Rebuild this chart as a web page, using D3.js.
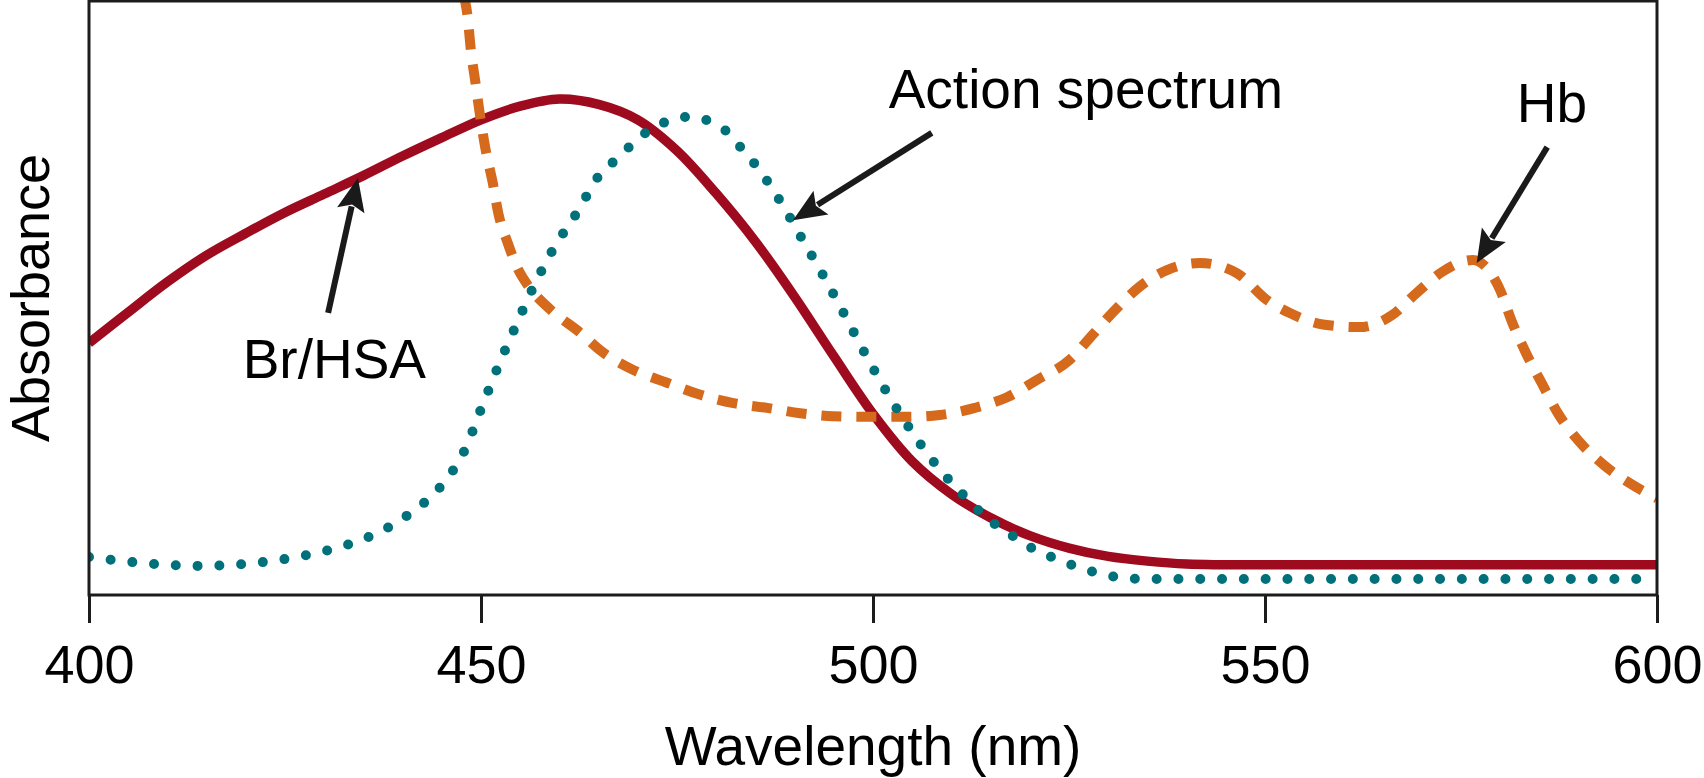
<!DOCTYPE html>
<html>
<head>
<meta charset="utf-8">
<script src="https://cdn.jsdelivr.net/npm/d3@7"></script>
<style>
html, body { margin: 0; padding: 0; background: #ffffff; }
svg { display: block; }
</style>
</head>
<body>
<svg id="chart" width="1704" height="778"></svg>
<script>
// ---- Data (wavelength in nm, absorbance in arbitrary relative units 0-100) ----
const xTickValues = [400, 450, 500, 550, 600];
const xTitle = "Wavelength (nm)";
const yTitle = "Absorbance";

const brWave = [400, 405, 410, 415, 420, 425, 430, 435, 440, 445, 450, 455, 460, 465, 470, 475, 480, 485, 490, 495, 500, 505, 510, 515, 520, 525, 530, 535, 540, 545, 570, 600];
const brAbs  = [42.4, 47.6, 52.7, 57.2, 60.9, 64.4, 67.5, 70.6, 73.9, 77.0, 80.0, 82.3, 83.5, 82.6, 80.0, 74.8, 67.6, 59.5, 50.2, 40.2, 30.5, 22.5, 17.0, 13.0, 10.0, 7.9, 6.5, 5.7, 5.2, 5.1, 5.1, 5.1];

const actionWave = [400, 403, 408.5, 414, 419.6, 425.2, 430.7, 435.9, 440.8, 445, 448, 450, 452.1, 454.3, 456.7, 459.2, 462.3, 465, 467.3, 469.3, 471.3, 473.9, 476.6, 479.4, 481.7, 483.4, 485.2, 488.3, 491.1, 493.9, 496.6, 499.2, 501.9, 505, 508.3, 512, 514, 516.2, 518.5, 520.9, 523.4, 526.1, 528.7, 531.2, 534.3, 600];
const actionAbs  = [6.4, 5.9, 5.2, 4.9, 5.2, 6.1, 7.6, 9.9, 13.6, 18.5, 24.6, 31.3, 38.2, 44.9, 51.9, 58.2, 64.5, 70.5, 73.4, 75.9, 78.1, 79.8, 80.5, 79.6, 77.6, 74.9, 72.1, 66.0, 59.6, 53.2, 46.6, 40.1, 33.8, 27.4, 21.5, 16.2, 13.6, 11.3, 9.4, 7.4, 6.1, 4.7, 3.7, 3.0, 2.7, 2.7];

const hbWave = [447.8, 448.3, 448.7, 449.3, 449.9, 450.6, 451.5, 452.2, 453.4, 454.6, 456.1, 458.9, 462.7, 465.2, 469.4, 473.8, 478, 482.2, 486.5, 490.7, 494.9, 499.9, 504.3, 508.5, 513, 517.1, 520.9, 525.1, 528, 530.6, 534, 537.5, 541.7, 546.4, 550.2, 553.1, 557.6, 562, 566.2, 569.3, 572.6, 576.5, 580, 581.5, 583.3, 585.4, 587.5, 590.1, 593.2, 597.3, 600];
const hbAbs  = [101, 97.3, 91.8, 86.2, 80.5, 74.9, 69.4, 64.3, 59.3, 55.2, 51.9, 48.0, 44.1, 41.2, 37.9, 35.7, 33.7, 32.3, 31.5, 30.6, 30.1, 30.0, 30.0, 30.3, 31.5, 33.3, 36.2, 39.6, 43.8, 47.6, 51.9, 54.7, 55.9, 54.2, 49.7, 47.5, 45.5, 45.1, 47.1, 50.8, 54.4, 56.4, 51.3, 46.0, 40.7, 35.4, 30.3, 25.8, 21.9, 18.2, 16.3];

// Annotation labels (text) and their anchor points in data units
const labelTexts = ["Br/HSA", "Action spectrum", "Hb"];
const labelWave  = [419.6, 502.0, 582.1];
const labelAbs   = [36.5, 82.0, 79.6];
const arrowTailWave = [430.5, 507.5, 586.0];
const arrowTailAbs  = [47.5, 77.8, 75.4];
const arrowTipWave  = [434.3, 489.8, 577.0];
const arrowTipAbs   = [70.2, 63.1, 55.9];

// ---- Layout ----
const FONT = "'Liberation Sans', Arial, Helvetica, sans-serif";
const plot = { left: 89, right: 1657, top: 1, bottom: 595 };

const svg = d3.select("#chart");
const x = d3.scaleLinear().domain([400, 600]).range([plot.left, plot.right]);
const y = d3.scaleLinear().domain([0, 100]).range([plot.bottom, plot.top]);

svg.append("defs").append("clipPath").attr("id", "plotclip")
  .append("rect")
  .attr("x", plot.left).attr("y", plot.top + 1)
  .attr("width", plot.right - plot.left).attr("height", plot.bottom - plot.top - 1);

const zip = (a, b) => a.map((v, i) => [v, b[i]]);
const line = d3.line().x(d => x(d[0])).y(d => y(d[1])).curve(d3.curveMonotoneX);
const smoothLine = d3.line().x(d => x(d[0])).y(d => y(d[1])).curve(d3.curveCatmullRom.alpha(0.5));

const curves = svg.append("g").attr("clip-path", "url(#plotclip)");

// Br/HSA solid
curves.append("path")
  .datum(zip(brWave, brAbs))
  .attr("d", smoothLine)
  .attr("fill", "none")
  .attr("stroke", "#9e0a1e")
  .attr("stroke-width", 9.5)
  .attr("stroke-linejoin", "round");

// Hb dashed
curves.append("path")
  .datum(zip(hbWave, hbAbs))
  .attr("d", line)
  .attr("fill", "none")
  .attr("stroke", "#d5691c")
  .attr("stroke-width", 10)
  .attr("stroke-dasharray", "20 15");

// Action spectrum dotted
curves.append("path")
  .datum(zip(actionWave, actionAbs))
  .attr("d", line)
  .attr("fill", "none")
  .attr("stroke", "#00707a")
  .attr("stroke-width", 10)
  .attr("stroke-linecap", "round")
  .attr("stroke-dasharray", "0 21.8");

// Frame
svg.append("rect")
  .attr("x", plot.left).attr("y", plot.top)
  .attr("width", plot.right - plot.left).attr("height", plot.bottom - plot.top)
  .attr("fill", "none").attr("stroke", "#1c1c1c").attr("stroke-width", 3);

// X axis
const xAxis = d3.axisBottom(x).tickValues(xTickValues).tickSize(28).tickSizeOuter(0).tickPadding(22)
  .tickFormat(d3.format("d"));
const gx = svg.append("g").attr("transform", `translate(0,${plot.bottom})`).call(xAxis);
gx.select(".domain").remove();
gx.selectAll(".tick line").attr("stroke", "#1c1c1c").attr("stroke-width", 3);
gx.selectAll(".tick text").attr("fill", "#000").style("font-family", FONT).style("font-size", "54px");

// Axis titles
svg.append("text")
  .attr("x", (plot.left + plot.right) / 2).attr("y", 765)
  .attr("text-anchor", "middle")
  .style("font-family", FONT).style("font-size", "55px").attr("fill", "#000")
  .text(xTitle);

svg.append("text")
  .attr("transform", `translate(49,${(plot.top + plot.bottom) / 2}) rotate(-90)`)
  .attr("text-anchor", "middle")
  .style("font-family", FONT).style("font-size", "54px").attr("fill", "#000")
  .text(yTitle);

// Annotations
const ann = svg.append("g");
labelTexts.forEach((t, i) => {
  ann.append("text")
    .attr("x", x(labelWave[i])).attr("y", y(labelAbs[i]))
    .style("font-family", FONT).style("font-size", "55px").attr("fill", "#000")
    .text(t);

  const x0 = x(arrowTailWave[i]), y0 = y(arrowTailAbs[i]);
  const x1 = x(arrowTipWave[i]), y1 = y(arrowTipAbs[i]);
  const dx = x1 - x0, dy = y1 - y0, len = Math.hypot(dx, dy);
  const ux = dx / len, uy = dy / len, nx = -uy, ny = ux;
  const headLen = 33, headHalf = 14;
  const bx = x1 - ux * headLen, by = y1 - uy * headLen;
  ann.append("line")
    .attr("x1", x0).attr("y1", y0)
    .attr("x2", bx + ux * 4).attr("y2", by + uy * 4)
    .attr("stroke", "#1a1a1a").attr("stroke-width", 6);
  ann.append("path")
    .attr("d", `M${x1},${y1}L${bx + nx * headHalf},${by + ny * headHalf}L${bx + ux * 6},${by + uy * 6}L${bx - nx * headHalf},${by - ny * headHalf}Z`)
    .attr("fill", "#1a1a1a");
});
</script>
</body>
</html>
